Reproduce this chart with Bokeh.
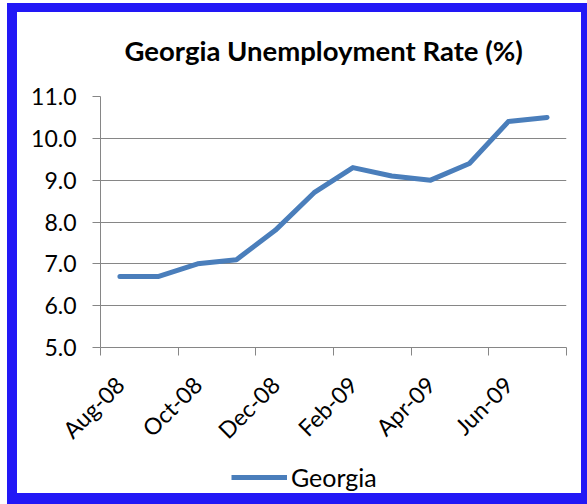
import math
from bokeh.plotting import figure
from bokeh.layouts import column
from bokeh.models import (Range1d, FixedTicker, NumeralTickFormatter, Legend,
                          LegendItem, ColumnDataSource)
from bokeh.embed import file_html
from bokeh.resources import INLINE

months = ["Aug-08", "Sep-08", "Oct-08", "Nov-08", "Dec-08", "Jan-09",
          "Feb-09", "Mar-09", "Apr-09", "May-09", "Jun-09", "Jul-09"]
rates = [6.7, 6.7, 7.0, 7.1, 7.8, 8.7, 9.3, 9.1, 9.0, 9.4, 10.4, 10.5]
y_ticks = [5, 6, 7, 8, 9, 10, 11]
series_name = "Georgia"
title_text = "Georgia Unemployment Rate (%)"

n = len(months)
xs = [i + 0.5 for i in range(n)]
label_pos = xs[::2]
label_txt = months[::2]
boundaries = list(range(0, n + 1, 2))

FONT = "Lato"
GRAY = "#868686"
LINE = "#4A7EBB"
W, H = 587, 504
H_LEG = 44

p = figure(width=W, height=H - H_LEG, output_backend="svg", toolbar_location=None,
           x_range=Range1d(0, n), y_range=Range1d(5, 11),
           min_border_left=100, min_border_right=21, min_border_top=96,
           min_border_bottom=113, title=title_text)
p.outline_line_color = None
p.background_fill_color = "white"
p.border_fill_color = None

p.title.text_font = FONT
p.title.text_font_size = "27.5px"
p.title.text_font_style = "bold"
p.title.text_color = "black"
p.title.align = "left"
p.title.offset = 24
p.title.standoff = 60

p.line(xs, rates, line_color=LINE, line_width=5,
       line_cap="round", line_join="round")

# y axis
ya = p.yaxis[0]
ya.ticker = FixedTicker(ticks=y_ticks)
ya.formatter = NumeralTickFormatter(format="0.0")
ya.axis_line_color = GRAY
ya.major_tick_line_color = GRAY
ya.major_tick_out = 8
ya.major_tick_in = 0
ya.minor_tick_line_color = None
ya.major_label_text_font = FONT
ya.major_label_text_font_size = "23px"
ya.major_label_text_color = "black"
ya.major_label_standoff = 16

# x axis
xa = p.xaxis[0]
xa.ticker = FixedTicker(ticks=label_pos, minor_ticks=boundaries)
xa.major_label_overrides = {pos: t for pos, t in zip(label_pos, label_txt)}
xa.axis_line_color = GRAY
xa.major_tick_line_color = None
xa.major_tick_out = 0
xa.major_tick_in = 0
xa.minor_tick_line_color = GRAY
xa.minor_tick_out = 8
xa.minor_tick_in = 0
xa.major_label_orientation = math.pi / 4
xa.major_label_text_font = FONT
xa.major_label_text_font_size = "23px"
xa.major_label_text_color = "black"
xa.major_label_standoff = 25

p.xgrid.grid_line_color = None
p.ygrid.ticker = FixedTicker(ticks=y_ticks)
p.ygrid.grid_line_color = GRAY
p.ygrid.grid_line_width = 1

# legend strip below the chart
q = figure(width=W, height=H_LEG, output_backend="svg", toolbar_location=None,
           x_range=Range1d(0, 1), y_range=Range1d(0, 1),
           x_axis_location=None, y_axis_location=None, min_border=0)
q.outline_line_color = None
q.background_fill_color = None
q.border_fill_color = None
q.grid.visible = False
leg_src = ColumnDataSource(data=dict(x=[float("nan")], y=[float("nan")]))
lr = q.line("x", "y", source=leg_src, line_color=LINE, line_width=5)

legend = Legend(items=[LegendItem(label=series_name, renderers=[lr])],
                orientation="horizontal", location=(131, 12))
legend.border_line_color = None
legend.background_fill_alpha = 0
legend.label_text_font = FONT
legend.label_text_font_size = "25px"
legend.label_text_color = "black"
legend.glyph_width = 56
legend.glyph_height = 24
legend.label_standoff = 4
legend.padding = 2
legend.margin = 0
q.add_layout(legend, "center")

layout = column(p, q, spacing=0, styles={
    "background-color": "white",
    "box-shadow": "inset 7px 3px 0 0 #ffffff, inset 5.5px 0.5px 0 11.5px #2218F6"})

open("out.html", "w").write(file_html(layout, INLINE))
